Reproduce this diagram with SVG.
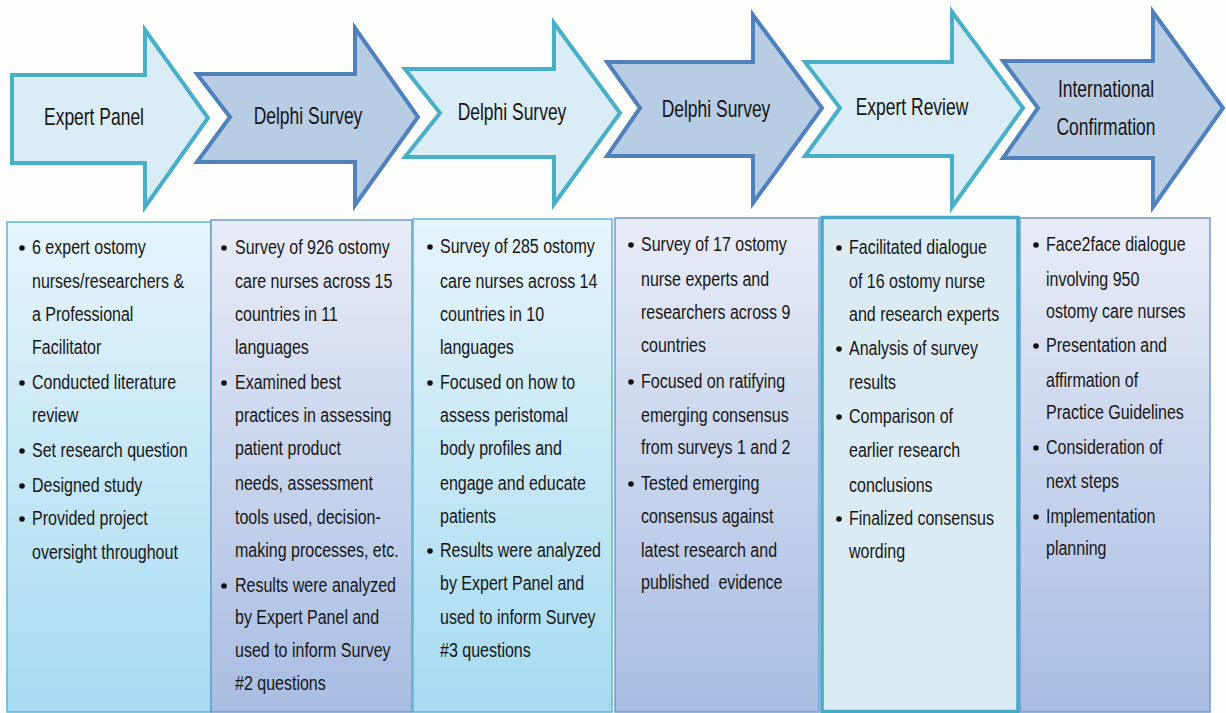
<svg xmlns="http://www.w3.org/2000/svg" width="1226" height="713" viewBox="0 0 1226 713">
<style>
.arL{fill:#daedf6;stroke:#48afc9;stroke-width:4;stroke-linejoin:miter}
.arD{fill:#b8cce4;stroke:#4f81bd;stroke-width:4;stroke-linejoin:miter}
.hd{font-family:"Liberation Sans",Arial,sans-serif;font-size:23px;fill:#141414;text-anchor:middle}
.bd{font-family:"Liberation Sans",Arial,sans-serif;font-size:20px;fill:#161616}
.bx1{fill:url(#gT);stroke:#5cb6d5;stroke-width:1.5}
.bx2{fill:url(#gB);stroke:#7399cc;stroke-width:1.5}
.bx5{fill:#daebf4;stroke:#46a9c5;stroke-width:3.5}
.dot{fill:#111}
</style>
<defs>
<linearGradient id="gT" x1="0" y1="0" x2="0" y2="1">
<stop offset="0" stop-color="#e6f4fb"/>
<stop offset="1" stop-color="#a6dbf1"/>
</linearGradient>
<linearGradient id="gB" x1="0" y1="0" x2="0" y2="1">
<stop offset="0" stop-color="#e8ecf7"/>
<stop offset="1" stop-color="#a8bde2"/>
</linearGradient>
</defs>
<rect x="0" y="0" width="1226" height="713" fill="#fdfdfc"/>

<g id="connectors"></g>

<g id="arrow1">
<path class="arL" d="M12,75 L145,75 L145,30 L208,118 L145,207 L145,163 L12,163 Z"/>
<g transform="translate(94,0) scale(0.76,1)"><text class="hd" x="0" y="125">Expert Panel</text></g>
</g>
<g id="arrow2">
<path class="arD" d="M197,74 L355,74 L355,28 L418,117 L355,205 L355,162 L197,162 L230,117 Z"/>
<g transform="translate(308,0) scale(0.76,1)"><text class="hd" x="0" y="124">Delphi Survey</text></g>
</g>
<g id="arrow3">
<path class="arL" d="M405,69 L554,69 L554,23 L620,113 L554,204 L554,157 L405,157 L440,113 Z"/>
<g transform="translate(512,0) scale(0.76,1)"><text class="hd" x="0" y="120">Delphi Survey</text></g>
</g>
<g id="arrow4">
<path class="arD" d="M607,62 L753,62 L753,15 L822,108 L753,203 L753,156 L607,156 L640,108 Z"/>
<g transform="translate(716,0) scale(0.76,1)"><text class="hd" x="0" y="117">Delphi Survey</text></g>
</g>
<g id="arrow5">
<path class="arL" d="M805,62 L952,62 L952,12 L1023,108 L952,207 L952,156 L805,156 L840,108 Z"/>
<g transform="translate(912,0) scale(0.76,1)"><text class="hd" x="0" y="115">Expert Review</text></g>
</g>
<g id="arrow6">
<path class="arD" d="M1003,61 L1153,61 L1153,12 L1223,108 L1153,207 L1153,158 L1003,158 L1038,108 Z"/>
<g transform="translate(1106,0) scale(0.76,1)"><text class="hd" x="0" y="97">International</text><text class="hd" x="0" y="135">Confirmation</text></g>
</g>

<g id="box1">
<rect class="bx1" x="7" y="222" width="204" height="490"/>
<circle class="dot" cx="22" cy="248" r="2.8"/>
<circle class="dot" cx="22" cy="383" r="2.8"/>
<circle class="dot" cx="22" cy="451" r="2.8"/>
<circle class="dot" cx="22" cy="486" r="2.8"/>
<circle class="dot" cx="22" cy="519" r="2.8"/>
<g transform="translate(32,0) scale(0.8,1)">
<text class="bd" x="0" y="254">6 expert ostomy</text>
<text class="bd" x="0" y="288">nurses/researchers &amp;</text>
<text class="bd" x="0" y="321">a Professional</text>
<text class="bd" x="0" y="354">Facilitator</text>
<text class="bd" x="0" y="389">Conducted literature</text>
<text class="bd" x="0" y="422">review</text>
<text class="bd" x="0" y="457">Set research question</text>
<text class="bd" x="0" y="492">Designed study</text>
<text class="bd" x="0" y="525">Provided project</text>
<text class="bd" x="0" y="559">oversight throughout</text>
</g>
</g>

<g id="box2">
<rect class="bx2" x="211" y="220" width="201" height="492"/>
<circle class="dot" cx="224" cy="248" r="2.8"/>
<circle class="dot" cx="224" cy="383" r="2.8"/>
<circle class="dot" cx="224" cy="586" r="2.8"/>
<g transform="translate(235,0) scale(0.8,1)">
<text class="bd" x="0" y="254">Survey of 926 ostomy</text>
<text class="bd" x="0" y="288">care nurses across 15</text>
<text class="bd" x="0" y="321">countries in 11</text>
<text class="bd" x="0" y="354">languages</text>
<text class="bd" x="0" y="389">Examined best</text>
<text class="bd" x="0" y="422">practices in assessing</text>
<text class="bd" x="0" y="455">patient product</text>
<text class="bd" x="0" y="490">needs, assessment</text>
<text class="bd" x="0" y="524">tools used, decision-</text>
<text class="bd" x="0" y="557">making processes, etc.</text>
<text class="bd" x="0" y="592">Results were analyzed</text>
<text class="bd" x="0" y="624">by Expert Panel and</text>
<text class="bd" x="0" y="657">used to inform Survey</text>
<text class="bd" x="0" y="690">#2 questions</text>
</g>
</g>

<g id="box3">
<rect class="bx1" x="413" y="219" width="199" height="493"/>
<circle class="dot" cx="430" cy="247" r="2.8"/>
<circle class="dot" cx="430" cy="383" r="2.8"/>
<circle class="dot" cx="430" cy="551" r="2.8"/>
<g transform="translate(440,0) scale(0.8,1)">
<text class="bd" x="0" y="253">Survey of 285 ostomy</text>
<text class="bd" x="0" y="288">care nurses across 14</text>
<text class="bd" x="0" y="321">countries in 10</text>
<text class="bd" x="0" y="354">languages</text>
<text class="bd" x="0" y="389">Focused on how to</text>
<text class="bd" x="0" y="422">assess peristomal</text>
<text class="bd" x="0" y="455">body profiles and</text>
<text class="bd" x="0" y="490">engage and educate</text>
<text class="bd" x="0" y="523">patients</text>
<text class="bd" x="0" y="557">Results were analyzed</text>
<text class="bd" x="0" y="590">by Expert Panel and</text>
<text class="bd" x="0" y="624">used to inform Survey</text>
<text class="bd" x="0" y="657">#3 questions</text>
</g>
</g>

<g id="box4">
<rect class="bx2" x="615" y="218" width="204" height="494"/>
<circle class="dot" cx="631" cy="245" r="2.8"/>
<circle class="dot" cx="631" cy="382" r="2.8"/>
<circle class="dot" cx="631" cy="484" r="2.8"/>
<g transform="translate(641,0) scale(0.8,1)">
<text class="bd" x="0" y="251">Survey of 17 ostomy</text>
<text class="bd" x="0" y="286">nurse experts and</text>
<text class="bd" x="0" y="319">researchers across 9</text>
<text class="bd" x="0" y="352">countries</text>
<text class="bd" x="0" y="388">Focused on ratifying</text>
<text class="bd" x="0" y="422">emerging consensus</text>
<text class="bd" x="0" y="454">from surveys 1 and 2</text>
<text class="bd" x="0" y="490">Tested emerging</text>
<text class="bd" x="0" y="523">consensus against</text>
<text class="bd" x="0" y="557">latest research and</text>
<text class="bd" x="0" y="589" xml:space="preserve">published  evidence</text>
</g>
</g>

<g id="box5">
<rect class="bx5" x="822" y="217.5" width="196" height="494"/>
<circle class="dot" cx="839" cy="248" r="2.8"/>
<circle class="dot" cx="839" cy="349" r="2.8"/>
<circle class="dot" cx="839" cy="417" r="2.8"/>
<circle class="dot" cx="839" cy="519" r="2.8"/>
<g transform="translate(849,0) scale(0.8,1)">
<text class="bd" x="0" y="254">Facilitated dialogue</text>
<text class="bd" x="0" y="288">of 16 ostomy nurse</text>
<text class="bd" x="0" y="321">and research experts</text>
<text class="bd" x="0" y="355">Analysis of survey</text>
<text class="bd" x="0" y="389">results</text>
<text class="bd" x="0" y="423">Comparison of</text>
<text class="bd" x="0" y="457">earlier research</text>
<text class="bd" x="0" y="492">conclusions</text>
<text class="bd" x="0" y="525">Finalized consensus</text>
<text class="bd" x="0" y="558">wording</text>
</g>
</g>

<g id="box6">
<rect class="bx2" x="1020" y="218" width="190" height="494"/>
<circle class="dot" cx="1036" cy="245" r="2.8"/>
<circle class="dot" cx="1036" cy="346" r="2.8"/>
<circle class="dot" cx="1036" cy="448" r="2.8"/>
<circle class="dot" cx="1036" cy="517" r="2.8"/>
<g transform="translate(1046,0) scale(0.8,1)">
<text class="bd" x="0" y="251">Face2face dialogue</text>
<text class="bd" x="0" y="286">involving 950</text>
<text class="bd" x="0" y="318">ostomy care nurses</text>
<text class="bd" x="0" y="352">Presentation and</text>
<text class="bd" x="0" y="387">affirmation of</text>
<text class="bd" x="0" y="419">Practice Guidelines</text>
<text class="bd" x="0" y="454">Consideration of</text>
<text class="bd" x="0" y="488">next steps</text>
<text class="bd" x="0" y="523">Implementation</text>
<text class="bd" x="0" y="555">planning</text>
</g>
</g>
</svg>
